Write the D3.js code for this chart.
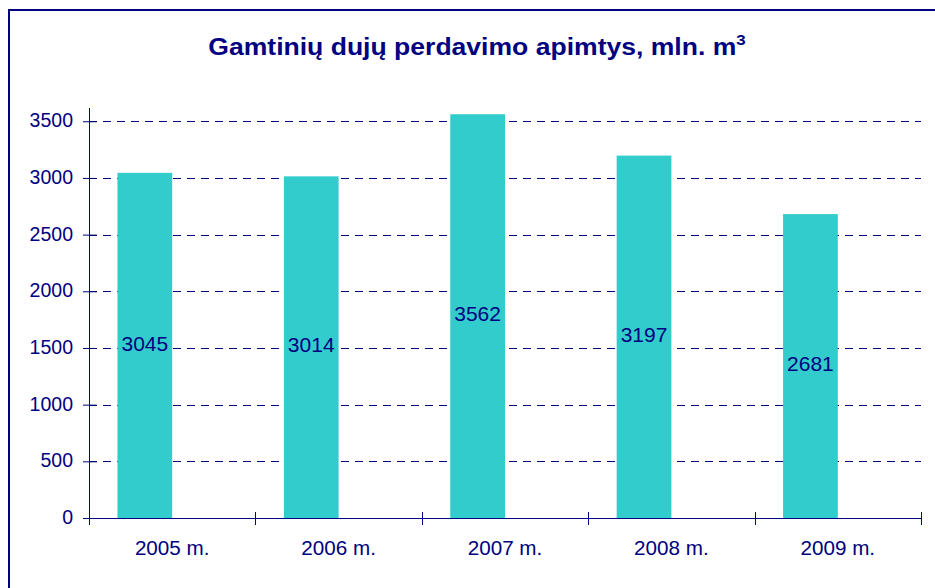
<!DOCTYPE html>
<html>
<head>
<meta charset="utf-8">
<script src="https://cdn.jsdelivr.net/npm/d3@7"></script>
<style>
  body { margin: 0; background: #fff; }
  text { font-family: "Liberation Sans", Arial, sans-serif; fill: #000080; }
</style>
</head>
<body>
<div id="chart"></div>
<script>
var years = ["2005 m.", "2006 m.", "2007 m.", "2008 m.", "2009 m."];
var volumes = [3045, 3014, 3562, 3197, 2681];
var yTicks = [0, 500, 1000, 1500, 2000, 2500, 3000, 3500];

var W = 935, H = 588;
var margin = { top: 108, right: 14, bottom: 70, left: 89 },
  width = W - margin.left - margin.right,
  height = H - margin.top - margin.bottom;

var navy = "#000080";

var root = d3.select("#chart")
  .append("svg")
  .attr("width", W)
  .attr("height", H);

// outer frame of the chart area
root.append("rect")
  .attr("x", 9).attr("y", 10)
  .attr("width", W + 20).attr("height", H + 20)
  .attr("fill", "none")
  .attr("stroke", navy)
  .attr("stroke-width", 2);

// title is a bit wider than plain Arial bold in the original
var title = root.append("text")
  .attr("transform", "translate(477,55) scale(1.13,1)")
  .attr("text-anchor", "middle")
  .style("font-size", "23.5px")
  .style("font-weight", "bold");
title.append("tspan").text("Gamtinių dujų perdavimo apimtys, mln. m");
title.append("tspan").attr("dy", -10).style("font-size", "15px").text("3");

var svg = root.append("g")
  .attr("transform", "translate(" + margin.left + "," + margin.top + ")");

var x = d3.scaleBand()
  .domain(years)
  .range([0, width]);

// two slots per category, the second one is empty (as in the original spreadsheet chart)
var xInner = d3.scaleBand()
  .domain(["v", "empty"])
  .range([0, x.bandwidth()])
  .paddingOuter(0.52);

var y = d3.scaleLinear()
  .domain([0, 3617])
  .range([height, 0]);

// gridlines
svg.selectAll(".grid")
  .data(yTicks.slice(1))
  .enter()
  .append("line")
  .attr("x1", 0).attr("x2", width)
  .attr("y1", function (d) { return Math.round(y(d)) + 0.5; })
  .attr("y2", function (d) { return Math.round(y(d)) + 0.5; })
  .attr("stroke", navy)
  .attr("stroke-dasharray", "8,6");

// bars
svg.selectAll(".bar")
  .data(volumes)
  .enter()
  .append("rect")
  .attr("x", function (d, i) { return x(years[i]) + xInner("v"); })
  .attr("y", function (d) { return y(d); })
  .attr("width", xInner.bandwidth())
  .attr("height", function (d) { return height - y(d); })
  .attr("fill", "#33CCCC");

// value labels in the middle of each bar
svg.selectAll(".lbl")
  .data(volumes)
  .enter()
  .append("text")
  .attr("x", function (d, i) { return x(years[i]) + xInner("v") + xInner.bandwidth() / 2; })
  .attr("y", function (d) { return y(d / 2); })
  .attr("dy", "0.25em")
  .attr("text-anchor", "middle")
  .style("font-size", "21px")
  .text(function (d) { return d; });

// y axis
var yAxis = svg.append("g")
  .call(d3.axisLeft(y).tickValues(yTicks).tickFormat(d3.format("d")).tickSize(6).tickPadding(10));
yAxis.select(".domain").attr("stroke", navy).attr("d", "M0.5," + height + "V0");
yAxis.selectAll(".tick line").attr("stroke", navy).attr("x2", -6).attr("x1", 8);
yAxis.selectAll(".tick text").style("font-size", "19.5px").attr("fill", navy)
  .attr("x", -16).attr("dy", "0.28em");

// x axis
var xAxis = svg.append("g")
  .attr("transform", "translate(0," + height + ")")
  .call(d3.axisBottom(x).tickSize(0).tickPadding(0));
xAxis.select(".domain").attr("stroke", navy).attr("d", "M0,0.5H" + width);
xAxis.selectAll(".tick text").style("font-size", "19.5px").attr("fill", navy)
  .attr("y", 37).attr("dy", null)
  .attr("transform", "scale(1.06,1)");

// category boundary ticks
svg.selectAll(".xtick")
  .data(d3.range(years.length + 1))
  .enter()
  .append("line")
  .attr("x1", function (i) { return Math.round(i * x.step()) + 0.5; })
  .attr("x2", function (i) { return Math.round(i * x.step()) + 0.5; })
  .attr("y1", height - 6).attr("y2", height + 7)
  .attr("stroke", navy);
</script>
</body>
</html>
